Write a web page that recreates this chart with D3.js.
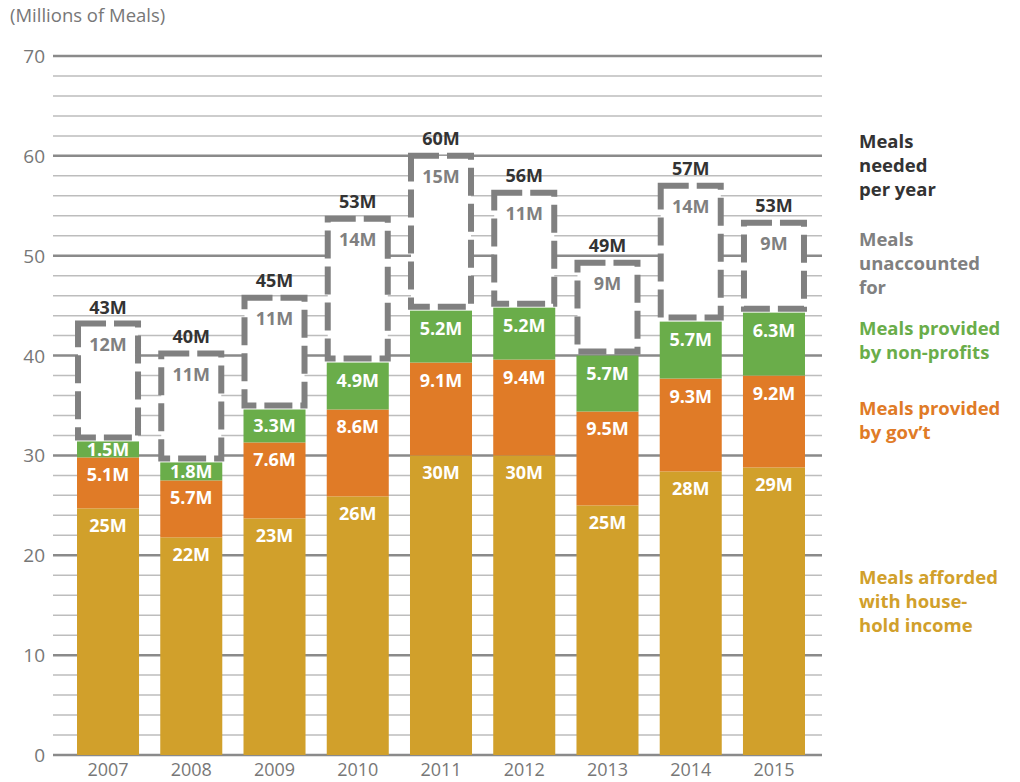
<!DOCTYPE html>
<html>
  <head>
    <title> Meals needed per year </title>
    <script src="https://d3js.org/d3.v7.min.js"></script>
    <style>
      body { margin: 0; background: #fff; }
      text { font-family: "Open Sans", Lato, sans-serif; }
    </style>
  </head>
  <body>
  <svg width="1020" height="782"></svg>
  <script>

    //chart values, millions of meals
    var years = ["2007", "2008", "2009", "2010", "2011", "2012", "2013", "2014", "2015"];
    var household = [24.7, 21.8, 23.7, 25.9, 30.0, 30.0, 25.0, 28.4, 28.8];
    var government = [5.1, 5.7, 7.6, 8.7, 9.3, 9.6, 9.4, 9.3, 9.2];
    var nonprofit = [1.6, 1.8, 3.3, 4.7, 5.2, 5.2, 5.6, 5.7, 6.3];
    var unaccounted = [11.8, 10.9, 11.2, 14.4, 15.5, 11.5, 9.3, 13.6, 9.0];
    var needed = [43.1, 40.2, 45.8, 53.7, 60.0, 56.3, 49.3, 57.0, 53.3];

    //printed labels
    var householdLabels = ["25M", "22M", "23M", "26M", "30M", "30M", "25M", "28M", "29M"];
    var governmentLabels = ["5.1M", "5.7M", "7.6M", "8.6M", "9.1M", "9.4M", "9.5M", "9.3M", "9.2M"];
    var nonprofitLabels = ["1.5M", "1.8M", "3.3M", "4.9M", "5.2M", "5.2M", "5.7M", "5.7M", "6.3M"];
    var unaccountedLabels = ["12M", "11M", "11M", "14M", "15M", "11M", "9M", "14M", "9M"];
    var neededLabels = ["43M", "40M", "45M", "53M", "60M", "56M", "49M", "57M", "53M"];
    var yTicks = [0, 10, 20, 30, 40, 50, 60, 70];

    var svg = d3.select("svg");

    //scales
    var x = d3.scaleBand().domain(years).range([66.4, 815.6]).paddingInner(0.255).paddingOuter(0.1275);
    var y = d3.scaleLinear().domain([0, 70]).range([755, 56]);

    var gray = "#808080";
    var colors = { household: "#d1a02b", government: "#e07b27", nonprofit: "#6aad4a" };

    //minor grid lines every 2
    svg.append("g").selectAll("line")
      .data(d3.range(0, 71, 2).filter(function(d) { return d % 10 != 0; }))
      .enter().append("line")
      .attr("x1", 53).attr("x2", 822)
      .attr("y1", function(d) { return y(d); })
      .attr("y2", function(d) { return y(d); })
      .attr("stroke", "#bdbdbd")
      .attr("stroke-width", 1.5);

    //major grid lines
    svg.append("g").selectAll("line")
      .data(yTicks)
      .enter().append("line")
      .attr("x1", 53).attr("x2", 822)
      .attr("y1", function(d) { return y(d); })
      .attr("y2", function(d) { return y(d); })
      .attr("stroke", "#8a8a8a")
      .attr("stroke-width", 2.5);

    //y axis labels
    svg.append("g").selectAll("text")
      .data(yTicks)
      .enter().append("text")
      .attr("x", 45)
      .attr("y", function(d) { return y(d) + 7; })
      .attr("text-anchor", "end")
      .attr("font-size", "19px")
      .attr("fill", "#777")
      .text(function(d) { return d; });

    svg.append("text")
      .attr("x", 10).attr("y", 22)
      .attr("font-size", "18.5px")
      .attr("fill", "#777")
      .text("(Millions of Meals)");

    //x axis labels
    svg.append("g").selectAll("text")
      .data(years)
      .enter().append("text")
      .attr("x", function(d) { return x(d) + x.bandwidth() / 2; })
      .attr("y", 776)
      .attr("text-anchor", "middle")
      .attr("font-size", "18px")
      .attr("fill", "#777")
      .text(function(d) { return d; });

    //stacked segments
    var segments = [];
    years.forEach(function(yr, i) {
      var b0 = 0, b1 = household[i], b2 = b1 + government[i], b3 = b2 + nonprofit[i];
      segments.push({ year: yr, lo: b0, hi: b1, color: colors.household, label: householdLabels[i] });
      segments.push({ year: yr, lo: b1, hi: b2, color: colors.government, label: governmentLabels[i] });
      segments.push({ year: yr, lo: b2, hi: b3, color: colors.nonprofit, label: nonprofitLabels[i] });
    });

    var bars = svg.append("g");
    bars.selectAll("rect")
      .data(segments)
      .enter().append("rect")
      .attr("x", function(d) { return x(d.year); })
      .attr("y", function(d) { return y(d.hi); })
      .attr("width", x.bandwidth())
      .attr("height", function(d) { return y(d.lo) - y(d.hi); })
      .attr("fill", function(d) { return d.color; });

    bars.selectAll("text")
      .data(segments)
      .enter().append("text")
      .attr("x", function(d) { return x(d.year) + x.bandwidth() / 2; })
      .attr("y", function(d) {
        var top = y(d.hi), mid = (y(d.hi) + y(d.lo)) / 2;
        return Math.min(top + 24, mid + 6.5);
      })
      .attr("text-anchor", "middle")
      .attr("font-size", "18px")
      .attr("font-weight", "bold")
      .attr("fill", "#fff")
      .text(function(d) { return d.label; });

    //dashed boxes for meals unaccounted for
    var boxes = svg.append("g");
    years.forEach(function(yr, i) {
      var base = household[i] + government[i] + nonprofit[i];
      var top = base + unaccounted[i];
      var bx = x(yr) + 1, bw = x.bandwidth() - 2;
      boxes.append("rect")
        .attr("x", bx)
        .attr("y", y(top))
        .attr("width", bw)
        .attr("height", y(base) - y(top) - 4)
        .attr("fill", "#fff")
        .attr("stroke", gray)
        .attr("stroke-width", 6)
        .attr("stroke-dasharray", "28,8");
      boxes.append("text")
        .attr("x", bx + bw / 2)
        .attr("y", y(top) + 27)
        .attr("text-anchor", "middle")
        .attr("font-size", "18px")
        .attr("font-weight", "bold")
        .attr("fill", gray)
        .text(unaccountedLabels[i]);
      boxes.append("text")
        .attr("x", bx + bw / 2)
        .attr("y", y(needed[i]) - 11)
        .attr("text-anchor", "middle")
        .attr("font-size", "18px")
        .attr("font-weight", "bold")
        .attr("fill", "#333")
        .text(neededLabels[i]);
    });

    //legend on the right
    var legend = [
      { lines: ["Meals", "needed", "per year"], color: "#333", y: 148 },
      { lines: ["Meals", "unaccounted", "for"], color: gray, y: 246 },
      { lines: ["Meals provided", "by non-profits"], color: colors.nonprofit, y: 335 },
      { lines: ["Meals provided", "by gov\u2019t"], color: colors.government, y: 415 },
      { lines: ["Meals afforded", "with house-", "hold income"], color: colors.household, y: 584 }
    ];
    legend.forEach(function(l) {
      var t = svg.append("text")
        .attr("x", 859).attr("y", l.y)
        .attr("font-size", "18.5px")
        .attr("font-weight", "bold")
        .attr("fill", l.color);
      l.lines.forEach(function(s, j) {
        t.append("tspan").attr("x", 859).attr("dy", j == 0 ? 0 : 24).text(s);
      });
    });

  </script>
  </body>
</html>
